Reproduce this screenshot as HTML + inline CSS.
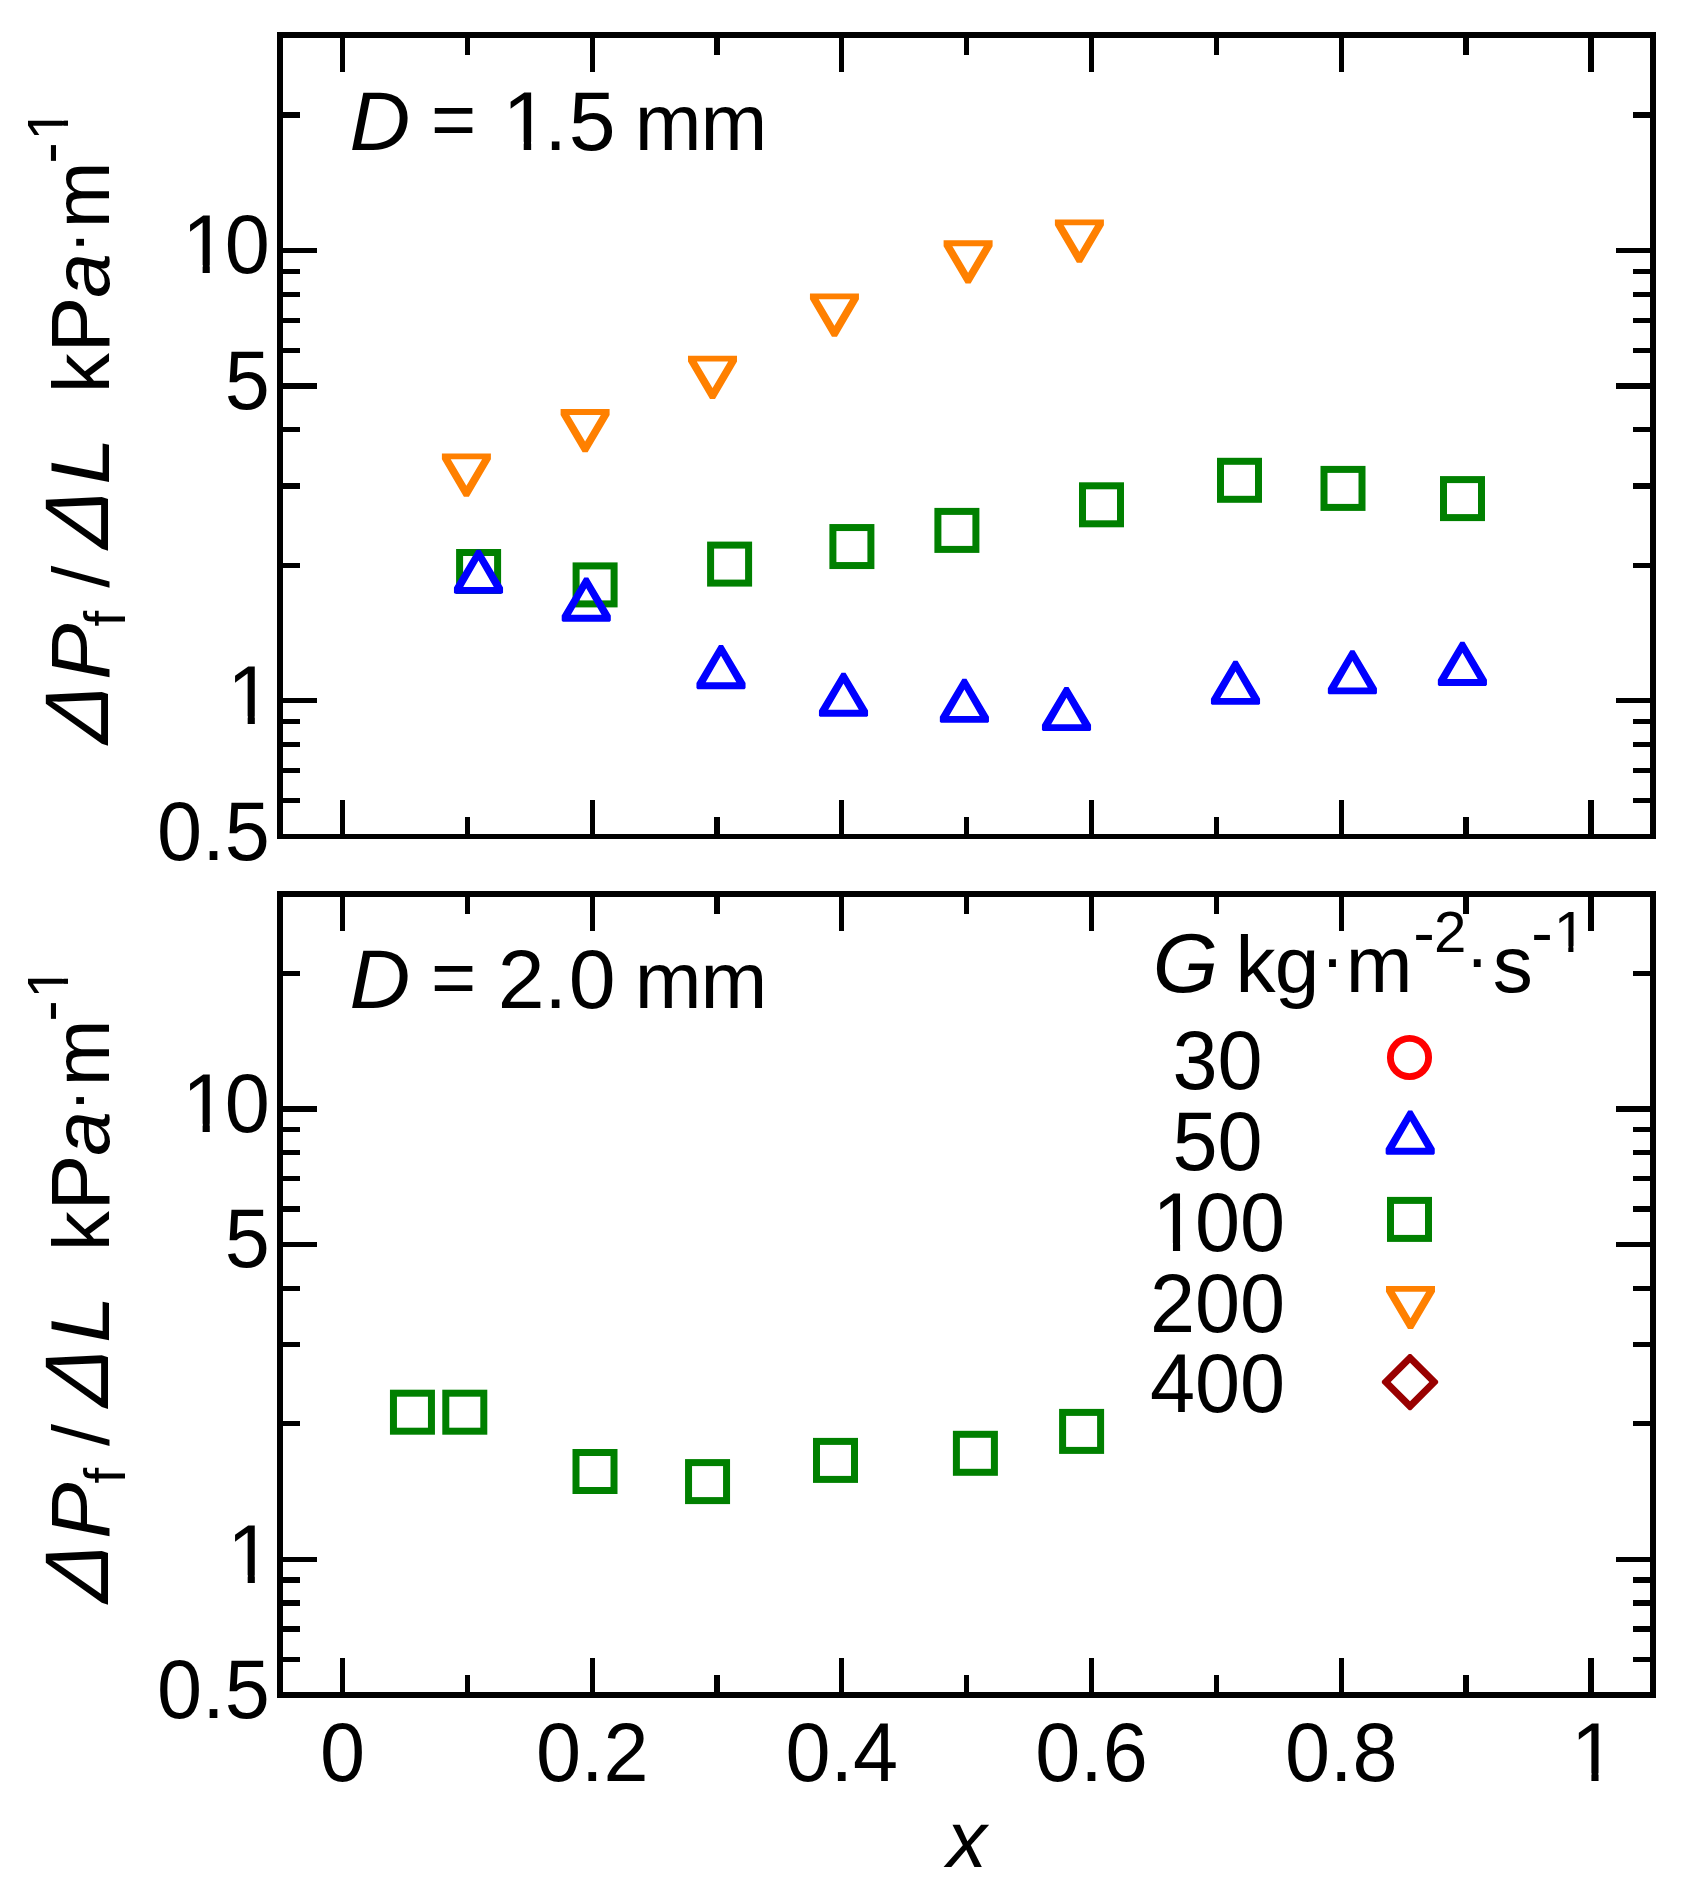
<!DOCTYPE html>
<html lang="en"><head><meta charset="utf-8"><title>Frictional pressure drop vs. quality</title>
<style>
html,body{margin:0;padding:0;background:#fff;}
svg{display:block;}
text{font-family:"Liberation Sans", sans-serif;fill:#000;font-kerning:none;}
</style></head><body>
<svg width="1695" height="1899" viewBox="0 0 1695 1899">
<rect width="1695" height="1899" fill="#fff"/>
<g id="axes">
<rect x="277.00" y="32.00" width="1379.00" height="6.00" fill="#000" shape-rendering="crispEdges"/>
<rect x="277.00" y="834.00" width="1379.00" height="5.00" fill="#000" shape-rendering="crispEdges"/>
<rect x="277.00" y="32.00" width="6.00" height="807.00" fill="#000" shape-rendering="crispEdges"/>
<rect x="1650.00" y="32.00" width="6.00" height="807.00" fill="#000" shape-rendering="crispEdges"/>
<rect x="277.00" y="890.70" width="1379.00" height="5.80" fill="#000" shape-rendering="crispEdges"/>
<rect x="277.00" y="1692.30" width="1379.00" height="5.50" fill="#000" shape-rendering="crispEdges"/>
<rect x="277.00" y="890.70" width="6.00" height="807.10" fill="#000" shape-rendering="crispEdges"/>
<rect x="1650.00" y="890.70" width="6.00" height="807.10" fill="#000" shape-rendering="crispEdges"/>
<rect x="339.90" y="35.00" width="5.20" height="37.00" fill="#000" shape-rendering="crispEdges"/>
<rect x="339.90" y="799.50" width="5.20" height="37.00" fill="#000" shape-rendering="crispEdges"/>
<rect x="464.74" y="35.00" width="5.20" height="20.00" fill="#000" shape-rendering="crispEdges"/>
<rect x="464.74" y="816.50" width="5.20" height="20.00" fill="#000" shape-rendering="crispEdges"/>
<rect x="589.58" y="35.00" width="5.20" height="37.00" fill="#000" shape-rendering="crispEdges"/>
<rect x="589.58" y="799.50" width="5.20" height="37.00" fill="#000" shape-rendering="crispEdges"/>
<rect x="714.42" y="35.00" width="5.20" height="20.00" fill="#000" shape-rendering="crispEdges"/>
<rect x="714.42" y="816.50" width="5.20" height="20.00" fill="#000" shape-rendering="crispEdges"/>
<rect x="839.26" y="35.00" width="5.20" height="37.00" fill="#000" shape-rendering="crispEdges"/>
<rect x="839.26" y="799.50" width="5.20" height="37.00" fill="#000" shape-rendering="crispEdges"/>
<rect x="964.10" y="35.00" width="5.20" height="20.00" fill="#000" shape-rendering="crispEdges"/>
<rect x="964.10" y="816.50" width="5.20" height="20.00" fill="#000" shape-rendering="crispEdges"/>
<rect x="1088.94" y="35.00" width="5.20" height="37.00" fill="#000" shape-rendering="crispEdges"/>
<rect x="1088.94" y="799.50" width="5.20" height="37.00" fill="#000" shape-rendering="crispEdges"/>
<rect x="1213.78" y="35.00" width="5.20" height="20.00" fill="#000" shape-rendering="crispEdges"/>
<rect x="1213.78" y="816.50" width="5.20" height="20.00" fill="#000" shape-rendering="crispEdges"/>
<rect x="1338.62" y="35.00" width="5.20" height="37.00" fill="#000" shape-rendering="crispEdges"/>
<rect x="1338.62" y="799.50" width="5.20" height="37.00" fill="#000" shape-rendering="crispEdges"/>
<rect x="1463.46" y="35.00" width="5.20" height="20.00" fill="#000" shape-rendering="crispEdges"/>
<rect x="1463.46" y="816.50" width="5.20" height="20.00" fill="#000" shape-rendering="crispEdges"/>
<rect x="1588.30" y="35.00" width="5.20" height="37.00" fill="#000" shape-rendering="crispEdges"/>
<rect x="1588.30" y="799.50" width="5.20" height="37.00" fill="#000" shape-rendering="crispEdges"/>
<rect x="339.90" y="893.60" width="5.20" height="37.00" fill="#000" shape-rendering="crispEdges"/>
<rect x="339.90" y="1658.05" width="5.20" height="37.00" fill="#000" shape-rendering="crispEdges"/>
<rect x="464.74" y="893.60" width="5.20" height="20.00" fill="#000" shape-rendering="crispEdges"/>
<rect x="464.74" y="1675.05" width="5.20" height="20.00" fill="#000" shape-rendering="crispEdges"/>
<rect x="589.58" y="893.60" width="5.20" height="37.00" fill="#000" shape-rendering="crispEdges"/>
<rect x="589.58" y="1658.05" width="5.20" height="37.00" fill="#000" shape-rendering="crispEdges"/>
<rect x="714.42" y="893.60" width="5.20" height="20.00" fill="#000" shape-rendering="crispEdges"/>
<rect x="714.42" y="1675.05" width="5.20" height="20.00" fill="#000" shape-rendering="crispEdges"/>
<rect x="839.26" y="893.60" width="5.20" height="37.00" fill="#000" shape-rendering="crispEdges"/>
<rect x="839.26" y="1658.05" width="5.20" height="37.00" fill="#000" shape-rendering="crispEdges"/>
<rect x="964.10" y="893.60" width="5.20" height="20.00" fill="#000" shape-rendering="crispEdges"/>
<rect x="964.10" y="1675.05" width="5.20" height="20.00" fill="#000" shape-rendering="crispEdges"/>
<rect x="1088.94" y="893.60" width="5.20" height="37.00" fill="#000" shape-rendering="crispEdges"/>
<rect x="1088.94" y="1658.05" width="5.20" height="37.00" fill="#000" shape-rendering="crispEdges"/>
<rect x="1213.78" y="893.60" width="5.20" height="20.00" fill="#000" shape-rendering="crispEdges"/>
<rect x="1213.78" y="1675.05" width="5.20" height="20.00" fill="#000" shape-rendering="crispEdges"/>
<rect x="1338.62" y="893.60" width="5.20" height="37.00" fill="#000" shape-rendering="crispEdges"/>
<rect x="1338.62" y="1658.05" width="5.20" height="37.00" fill="#000" shape-rendering="crispEdges"/>
<rect x="1463.46" y="893.60" width="5.20" height="20.00" fill="#000" shape-rendering="crispEdges"/>
<rect x="1463.46" y="1675.05" width="5.20" height="20.00" fill="#000" shape-rendering="crispEdges"/>
<rect x="1588.30" y="893.60" width="5.20" height="37.00" fill="#000" shape-rendering="crispEdges"/>
<rect x="1588.30" y="1658.05" width="5.20" height="37.00" fill="#000" shape-rendering="crispEdges"/>
<rect x="280.00" y="698.20" width="37.00" height="5.20" fill="#000" shape-rendering="crispEdges"/>
<rect x="1616.00" y="698.20" width="37.00" height="5.20" fill="#000" shape-rendering="crispEdges"/>
<rect x="280.00" y="383.45" width="37.00" height="5.20" fill="#000" shape-rendering="crispEdges"/>
<rect x="1616.00" y="383.45" width="37.00" height="5.20" fill="#000" shape-rendering="crispEdges"/>
<rect x="280.00" y="247.90" width="37.00" height="5.20" fill="#000" shape-rendering="crispEdges"/>
<rect x="1616.00" y="247.90" width="37.00" height="5.20" fill="#000" shape-rendering="crispEdges"/>
<rect x="280.00" y="798.10" width="20.00" height="5.20" fill="#000" shape-rendering="crispEdges"/>
<rect x="1633.00" y="798.10" width="20.00" height="5.20" fill="#000" shape-rendering="crispEdges"/>
<rect x="280.00" y="767.95" width="20.00" height="5.20" fill="#000" shape-rendering="crispEdges"/>
<rect x="1633.00" y="767.95" width="20.00" height="5.20" fill="#000" shape-rendering="crispEdges"/>
<rect x="280.00" y="741.84" width="20.00" height="5.20" fill="#000" shape-rendering="crispEdges"/>
<rect x="1633.00" y="741.84" width="20.00" height="5.20" fill="#000" shape-rendering="crispEdges"/>
<rect x="280.00" y="718.80" width="20.00" height="5.20" fill="#000" shape-rendering="crispEdges"/>
<rect x="1633.00" y="718.80" width="20.00" height="5.20" fill="#000" shape-rendering="crispEdges"/>
<rect x="280.00" y="562.65" width="20.00" height="5.20" fill="#000" shape-rendering="crispEdges"/>
<rect x="1633.00" y="562.65" width="20.00" height="5.20" fill="#000" shape-rendering="crispEdges"/>
<rect x="280.00" y="483.35" width="20.00" height="5.20" fill="#000" shape-rendering="crispEdges"/>
<rect x="1633.00" y="483.35" width="20.00" height="5.20" fill="#000" shape-rendering="crispEdges"/>
<rect x="280.00" y="427.09" width="20.00" height="5.20" fill="#000" shape-rendering="crispEdges"/>
<rect x="1633.00" y="427.09" width="20.00" height="5.20" fill="#000" shape-rendering="crispEdges"/>
<rect x="280.00" y="347.80" width="20.00" height="5.20" fill="#000" shape-rendering="crispEdges"/>
<rect x="1633.00" y="347.80" width="20.00" height="5.20" fill="#000" shape-rendering="crispEdges"/>
<rect x="280.00" y="317.65" width="20.00" height="5.20" fill="#000" shape-rendering="crispEdges"/>
<rect x="1633.00" y="317.65" width="20.00" height="5.20" fill="#000" shape-rendering="crispEdges"/>
<rect x="280.00" y="291.54" width="20.00" height="5.20" fill="#000" shape-rendering="crispEdges"/>
<rect x="1633.00" y="291.54" width="20.00" height="5.20" fill="#000" shape-rendering="crispEdges"/>
<rect x="280.00" y="268.50" width="20.00" height="5.20" fill="#000" shape-rendering="crispEdges"/>
<rect x="1633.00" y="268.50" width="20.00" height="5.20" fill="#000" shape-rendering="crispEdges"/>
<rect x="280.00" y="112.35" width="20.00" height="5.20" fill="#000" shape-rendering="crispEdges"/>
<rect x="1633.00" y="112.35" width="20.00" height="5.20" fill="#000" shape-rendering="crispEdges"/>
<rect x="280.00" y="1556.70" width="37.00" height="5.20" fill="#000" shape-rendering="crispEdges"/>
<rect x="1616.00" y="1556.70" width="37.00" height="5.20" fill="#000" shape-rendering="crispEdges"/>
<rect x="280.00" y="1241.95" width="37.00" height="5.20" fill="#000" shape-rendering="crispEdges"/>
<rect x="1616.00" y="1241.95" width="37.00" height="5.20" fill="#000" shape-rendering="crispEdges"/>
<rect x="280.00" y="1106.40" width="37.00" height="5.20" fill="#000" shape-rendering="crispEdges"/>
<rect x="1616.00" y="1106.40" width="37.00" height="5.20" fill="#000" shape-rendering="crispEdges"/>
<rect x="280.00" y="1656.60" width="20.00" height="5.20" fill="#000" shape-rendering="crispEdges"/>
<rect x="1633.00" y="1656.60" width="20.00" height="5.20" fill="#000" shape-rendering="crispEdges"/>
<rect x="280.00" y="1626.45" width="20.00" height="5.20" fill="#000" shape-rendering="crispEdges"/>
<rect x="1633.00" y="1626.45" width="20.00" height="5.20" fill="#000" shape-rendering="crispEdges"/>
<rect x="280.00" y="1600.34" width="20.00" height="5.20" fill="#000" shape-rendering="crispEdges"/>
<rect x="1633.00" y="1600.34" width="20.00" height="5.20" fill="#000" shape-rendering="crispEdges"/>
<rect x="280.00" y="1577.30" width="20.00" height="5.20" fill="#000" shape-rendering="crispEdges"/>
<rect x="1633.00" y="1577.30" width="20.00" height="5.20" fill="#000" shape-rendering="crispEdges"/>
<rect x="280.00" y="1421.15" width="20.00" height="5.20" fill="#000" shape-rendering="crispEdges"/>
<rect x="1633.00" y="1421.15" width="20.00" height="5.20" fill="#000" shape-rendering="crispEdges"/>
<rect x="280.00" y="1341.85" width="20.00" height="5.20" fill="#000" shape-rendering="crispEdges"/>
<rect x="1633.00" y="1341.85" width="20.00" height="5.20" fill="#000" shape-rendering="crispEdges"/>
<rect x="280.00" y="1285.59" width="20.00" height="5.20" fill="#000" shape-rendering="crispEdges"/>
<rect x="1633.00" y="1285.59" width="20.00" height="5.20" fill="#000" shape-rendering="crispEdges"/>
<rect x="280.00" y="1206.30" width="20.00" height="5.20" fill="#000" shape-rendering="crispEdges"/>
<rect x="1633.00" y="1206.30" width="20.00" height="5.20" fill="#000" shape-rendering="crispEdges"/>
<rect x="280.00" y="1176.15" width="20.00" height="5.20" fill="#000" shape-rendering="crispEdges"/>
<rect x="1633.00" y="1176.15" width="20.00" height="5.20" fill="#000" shape-rendering="crispEdges"/>
<rect x="280.00" y="1150.04" width="20.00" height="5.20" fill="#000" shape-rendering="crispEdges"/>
<rect x="1633.00" y="1150.04" width="20.00" height="5.20" fill="#000" shape-rendering="crispEdges"/>
<rect x="280.00" y="1127.00" width="20.00" height="5.20" fill="#000" shape-rendering="crispEdges"/>
<rect x="1633.00" y="1127.00" width="20.00" height="5.20" fill="#000" shape-rendering="crispEdges"/>
<rect x="280.00" y="970.85" width="20.00" height="5.20" fill="#000" shape-rendering="crispEdges"/>
<rect x="1633.00" y="970.85" width="20.00" height="5.20" fill="#000" shape-rendering="crispEdges"/>
</g>
<g id="series-top">
<path d="M441.90,453.45L490.90,453.45L490.90,459.35L468.90,496.65L463.90,496.65L441.90,459.35ZM450.70,459.35L482.10,459.35L466.40,485.85Z" fill="#FF8000" fill-rule="evenodd"/>
<path d="M560.60,409.00L609.60,409.00L609.60,414.90L587.60,452.20L582.60,452.20L560.60,414.90ZM569.40,414.90L600.80,414.90L585.10,441.40Z" fill="#FF8000" fill-rule="evenodd"/>
<path d="M688.00,355.70L737.00,355.70L737.00,361.60L715.00,398.90L710.00,398.90L688.00,361.60ZM696.80,361.60L728.20,361.60L712.50,388.10Z" fill="#FF8000" fill-rule="evenodd"/>
<path d="M809.95,293.45L858.95,293.45L858.95,299.35L836.95,336.65L831.95,336.65L809.95,299.35ZM818.75,299.35L850.15,299.35L834.45,325.85Z" fill="#FF8000" fill-rule="evenodd"/>
<path d="M943.60,240.35L992.60,240.35L992.60,246.25L970.60,283.55L965.60,283.55L943.60,246.25ZM952.40,246.25L983.80,246.25L968.10,272.75Z" fill="#FF8000" fill-rule="evenodd"/>
<path d="M1054.90,219.45L1103.90,219.45L1103.90,225.35L1081.90,262.65L1076.90,262.65L1054.90,225.35ZM1063.70,225.35L1095.10,225.35L1079.40,251.85Z" fill="#FF8000" fill-rule="evenodd"/>
<rect x="459.60" y="552.50" width="38" height="38" fill="none" stroke="#008000" stroke-width="7.0"/>
<rect x="576.10" y="565.90" width="38" height="38" fill="none" stroke="#008000" stroke-width="7.0"/>
<rect x="710.60" y="545.10" width="38" height="38" fill="none" stroke="#008000" stroke-width="7.0"/>
<rect x="832.90" y="527.55" width="38" height="38" fill="none" stroke="#008000" stroke-width="7.0"/>
<rect x="937.90" y="511.40" width="38" height="38" fill="none" stroke="#008000" stroke-width="7.0"/>
<rect x="1082.50" y="485.80" width="38" height="38" fill="none" stroke="#008000" stroke-width="7.0"/>
<rect x="1220.50" y="461.30" width="38" height="38" fill="none" stroke="#008000" stroke-width="7.0"/>
<rect x="1324.00" y="469.40" width="38" height="38" fill="none" stroke="#008000" stroke-width="7.0"/>
<rect x="1443.50" y="479.60" width="38" height="38" fill="none" stroke="#008000" stroke-width="7.0"/>
<path d="M476.50,549.70L480.50,549.70L503.05,587.60L503.05,592.70L501.95,593.80L455.05,593.80L453.95,592.70L453.95,587.60ZM478.50,560.50L493.80,586.90L463.20,586.90Z" fill="#0000FF" fill-rule="evenodd"/>
<path d="M584.25,577.55L588.25,577.55L610.80,615.45L610.80,620.55L609.70,621.65L562.80,621.65L561.70,620.55L561.70,615.45ZM586.25,588.35L601.55,614.75L570.95,614.75Z" fill="#0000FF" fill-rule="evenodd"/>
<path d="M719.00,645.05L723.00,645.05L745.55,682.95L745.55,688.05L744.45,689.15L697.55,689.15L696.45,688.05L696.45,682.95ZM721.00,655.85L736.30,682.25L705.70,682.25Z" fill="#0000FF" fill-rule="evenodd"/>
<path d="M841.50,672.65L845.50,672.65L868.05,710.55L868.05,715.65L866.95,716.75L820.05,716.75L818.95,715.65L818.95,710.55ZM843.50,683.45L858.80,709.85L828.20,709.85Z" fill="#0000FF" fill-rule="evenodd"/>
<path d="M962.40,678.75L966.40,678.75L988.95,716.65L988.95,721.75L987.85,722.85L940.95,722.85L939.85,721.75L939.85,716.65ZM964.40,689.55L979.70,715.95L949.10,715.95Z" fill="#0000FF" fill-rule="evenodd"/>
<path d="M1064.50,686.95L1068.50,686.95L1091.05,724.85L1091.05,729.95L1089.95,731.05L1043.05,731.05L1041.95,729.95L1041.95,724.85ZM1066.50,697.75L1081.80,724.15L1051.20,724.15Z" fill="#0000FF" fill-rule="evenodd"/>
<path d="M1233.50,660.75L1237.50,660.75L1260.05,698.65L1260.05,703.75L1258.95,704.85L1212.05,704.85L1210.95,703.75L1210.95,698.65ZM1235.50,671.55L1250.80,697.95L1220.20,697.95Z" fill="#0000FF" fill-rule="evenodd"/>
<path d="M1350.40,650.25L1354.40,650.25L1376.95,688.15L1376.95,693.25L1375.85,694.35L1328.95,694.35L1327.85,693.25L1327.85,688.15ZM1352.40,661.05L1367.70,687.45L1337.10,687.45Z" fill="#0000FF" fill-rule="evenodd"/>
<path d="M1460.40,641.85L1464.40,641.85L1486.95,679.75L1486.95,684.85L1485.85,685.95L1438.95,685.95L1437.85,684.85L1437.85,679.75ZM1462.40,652.65L1477.70,679.05L1447.10,679.05Z" fill="#0000FF" fill-rule="evenodd"/>
</g><g id="series-bottom">
<rect x="393.45" y="1393.20" width="38" height="38" fill="none" stroke="#008000" stroke-width="7.0"/>
<rect x="445.80" y="1393.20" width="38" height="38" fill="none" stroke="#008000" stroke-width="7.0"/>
<rect x="576.00" y="1452.50" width="38" height="38" fill="none" stroke="#008000" stroke-width="7.0"/>
<rect x="688.55" y="1462.60" width="38" height="38" fill="none" stroke="#008000" stroke-width="7.0"/>
<rect x="816.50" y="1441.40" width="38" height="38" fill="none" stroke="#008000" stroke-width="7.0"/>
<rect x="956.40" y="1434.30" width="38" height="38" fill="none" stroke="#008000" stroke-width="7.0"/>
<rect x="1062.60" y="1412.40" width="38" height="38" fill="none" stroke="#008000" stroke-width="7.0"/>
</g><g id="legend-symbols">
<circle cx="1409.5" cy="1057.5" r="19.1" fill="none" stroke="#FF0000" stroke-width="6.9"/>
<path d="M1408.20,1110.55L1412.20,1110.55L1434.75,1148.45L1434.75,1153.55L1433.65,1154.65L1386.75,1154.65L1385.65,1153.55L1385.65,1148.45ZM1410.20,1121.35L1425.50,1147.75L1394.90,1147.75Z" fill="#0000FF" fill-rule="evenodd"/>
<rect x="1390.50" y="1200.40" width="38" height="38" fill="none" stroke="#008000" stroke-width="7.0"/>
<path d="M1386.00,1285.90L1435.00,1285.90L1435.00,1291.80L1413.00,1329.10L1408.00,1329.10L1386.00,1291.80ZM1394.80,1291.80L1426.20,1291.80L1410.50,1318.30Z" fill="#FF8000" fill-rule="evenodd"/>
<path d="M1408.95,1353.90L1411.05,1353.90L1438.15,1381.00L1438.15,1383.10L1411.05,1410.20L1408.95,1410.20L1381.85,1383.10L1381.85,1381.00ZM1410.00,1362.75L1429.30,1382.05L1410.00,1401.35L1390.70,1382.05Z" fill="#990000" fill-rule="evenodd"/>
</g>
<g id="labels">
<text transform="translate(300.00,149.70)"><tspan x="49.61" y="0.00" font-size="84.24" font-style="italic">D</tspan> <tspan x="131.02" y="-3.90" font-size="77.35">=</tspan> <tspan x="202.52" y="0.00" font-size="84.24">1</tspan><tspan x="244.48" y="0.00" font-size="80.19">.</tspan><tspan x="268.73" y="0.00" font-size="84.24">5</tspan> <tspan x="334.67" y="0.00" font-size="80.19">m</tspan><tspan x="400.47" y="0.00" font-size="80.19">m</tspan></text>
<text transform="translate(300.00,1007.90)"><tspan x="49.61" y="0.00" font-size="84.24" font-style="italic">D</tspan> <tspan x="131.02" y="-3.90" font-size="77.35">=</tspan> <tspan x="197.66" y="0.00" font-size="84.24">2</tspan><tspan x="244.48" y="0.00" font-size="80.19">.</tspan><tspan x="268.81" y="0.00" font-size="84.24">0</tspan> <tspan x="334.67" y="0.00" font-size="80.19">m</tspan><tspan x="400.47" y="0.00" font-size="80.19">m</tspan></text>
<text transform="translate(269.70,272.90) scale(1,1.04)"><tspan x="-87.45" y="0.00" font-size="81.00">1</tspan><tspan x="-45.05" y="0.00" font-size="81.00">0</tspan></text>
<text transform="translate(269.70,408.70) scale(1,1.04)"><tspan x="-45.05" y="0.00" font-size="81.00">5</tspan></text>
<text transform="translate(269.70,724.10) scale(1,1.04)"><tspan x="-42.40" y="0.00" font-size="81.00">1</tspan></text>
<text transform="translate(269.70,860.20) scale(1,1.04)"><tspan x="-112.60" y="0.00" font-size="81.00">0</tspan><tspan x="-67.55" y="0.00" font-size="81.00">.</tspan><tspan x="-45.05" y="0.00" font-size="81.00">5</tspan></text>
<text transform="translate(269.70,1131.60) scale(1,1.04)"><tspan x="-87.45" y="0.00" font-size="81.00">1</tspan><tspan x="-45.05" y="0.00" font-size="81.00">0</tspan></text>
<text transform="translate(269.70,1266.75) scale(1,1.04)"><tspan x="-45.05" y="0.00" font-size="81.00">5</tspan></text>
<text transform="translate(269.70,1583.10) scale(1,1.04)"><tspan x="-42.40" y="0.00" font-size="81.00">1</tspan></text>
<text transform="translate(269.70,1718.00) scale(1,1.04)"><tspan x="-112.60" y="0.00" font-size="81.00">0</tspan><tspan x="-67.55" y="0.00" font-size="81.00">.</tspan><tspan x="-45.05" y="0.00" font-size="81.00">5</tspan></text>
<text transform="translate(342.50,1781.00) scale(1,1.04)"><tspan x="-22.52" y="0.00" font-size="81.00">0</tspan></text>
<text transform="translate(592.18,1781.00) scale(1,1.04)"><tspan x="-56.30" y="0.00" font-size="81.00">0</tspan><tspan x="-11.25" y="0.00" font-size="81.00">.</tspan><tspan x="11.25" y="0.00" font-size="81.00">2</tspan></text>
<text transform="translate(841.86,1781.00) scale(1,1.04)"><tspan x="-56.30" y="0.00" font-size="81.00">0</tspan><tspan x="-11.25" y="0.00" font-size="81.00">.</tspan><tspan x="11.25" y="0.00" font-size="81.00">4</tspan></text>
<text transform="translate(1091.54,1781.00) scale(1,1.04)"><tspan x="-56.30" y="0.00" font-size="81.00">0</tspan><tspan x="-11.25" y="0.00" font-size="81.00">.</tspan><tspan x="11.25" y="0.00" font-size="81.00">6</tspan></text>
<text transform="translate(1341.22,1781.00) scale(1,1.04)"><tspan x="-56.30" y="0.00" font-size="81.00">0</tspan><tspan x="-11.25" y="0.00" font-size="81.00">.</tspan><tspan x="11.25" y="0.00" font-size="81.00">8</tspan></text>
<text transform="translate(1590.90,1781.00) scale(1,1.04)"><tspan x="-19.87" y="0.00" font-size="81.00">1</tspan></text>
<text transform="translate(966.70,1867.00)"><tspan x="-20.05" y="0.00" font-size="80.19" font-style="italic">x</tspan></text>
<text transform="translate(108.00,748.29) rotate(-90) skewX(-18.2) scale(1.051,1.116)" font-size="81.0">Δ</text>
<text transform="translate(109.00,750.00) rotate(-90)"><tspan x="70.21" y="0.00" font-size="84.24" font-style="italic">P</tspan><tspan x="123.40" y="16.00" font-size="56.55">f</tspan> <tspan x="162.20" y="0.00" font-size="79.38">/</tspan> </text>
<text transform="translate(108.00,553.34) rotate(-90) skewX(-18.2) scale(1.051,1.116)" font-size="81.0">Δ</text>
<text transform="translate(109.00,750.00) rotate(-90)"><tspan x="265.41" y="0.00" font-size="84.24" font-style="italic">L</tspan> <tspan x="356.80" y="0.00" font-size="80.19">k</tspan><tspan x="397.34" y="0.00" font-size="84.24">P</tspan><tspan x="452.30" y="0.00" font-size="80.19" font-style="italic">a</tspan><tspan x="495.71" y="-9.20" font-size="72.00">·</tspan><tspan x="521.77" y="0.00" font-size="80.19">m</tspan><tspan x="586.33" y="-38.20" font-size="64.70">-</tspan><tspan x="609.59" y="-41.00" font-size="58.24">1</tspan></text>
<text transform="translate(108.00,1607.29) rotate(-90) skewX(-18.2) scale(1.051,1.116)" font-size="81.0">Δ</text>
<text transform="translate(109.00,1608.10) rotate(-90)"><tspan x="69.31" y="0.00" font-size="84.24" font-style="italic">P</tspan><tspan x="124.50" y="16.00" font-size="56.55">f</tspan> <tspan x="162.20" y="0.00" font-size="79.38">/</tspan> </text>
<text transform="translate(108.00,1411.44) rotate(-90) skewX(-18.2) scale(1.051,1.116)" font-size="81.0">Δ</text>
<text transform="translate(109.00,1608.10) rotate(-90)"><tspan x="265.41" y="0.00" font-size="84.24" font-style="italic">L</tspan> <tspan x="356.80" y="0.00" font-size="80.19">k</tspan><tspan x="397.34" y="0.00" font-size="84.24">P</tspan><tspan x="452.30" y="0.00" font-size="80.19" font-style="italic">a</tspan><tspan x="495.71" y="-9.20" font-size="72.00">·</tspan><tspan x="521.77" y="0.00" font-size="80.19">m</tspan><tspan x="586.33" y="-38.20" font-size="64.70">-</tspan><tspan x="609.59" y="-41.00" font-size="58.24">1</tspan></text>
<text transform="translate(1100.00,992.40)"><tspan x="52.85" y="0.00" font-size="84.24" font-style="italic">G</tspan> <tspan x="135.40" y="0.00" font-size="80.19">k</tspan><tspan x="174.68" y="0.00" font-size="80.19">g</tspan><tspan x="220.46" y="-9.20" font-size="72.00">·</tspan><tspan x="245.72" y="0.00" font-size="80.19">m</tspan><tspan x="313.33" y="-37.70" font-size="64.70">-</tspan><tspan x="334.07" y="-40.50" font-size="58.24">2</tspan><tspan x="365.26" y="-9.20" font-size="72.00">·</tspan><tspan x="392.77" y="0.00" font-size="80.19">s</tspan><tspan x="431.13" y="-37.70" font-size="64.70">-</tspan><tspan x="453.64" y="-40.50" font-size="58.24">1</tspan></text>
<text transform="translate(1217.50,1089.40) scale(1,1.04)"><tspan x="-45.05" y="0.00" font-size="81.00">3</tspan><tspan x="0.00" y="0.00" font-size="81.00">0</tspan></text>
<text transform="translate(1217.50,1170.15) scale(1,1.04)"><tspan x="-45.05" y="0.00" font-size="81.00">5</tspan><tspan x="0.00" y="0.00" font-size="81.00">0</tspan></text>
<text transform="translate(1217.50,1250.90) scale(1,1.04)"><tspan x="-64.92" y="0.00" font-size="81.00">1</tspan><tspan x="-22.52" y="0.00" font-size="81.00">0</tspan><tspan x="22.52" y="0.00" font-size="81.00">0</tspan></text>
<text transform="translate(1217.50,1331.65) scale(1,1.04)"><tspan x="-67.57" y="0.00" font-size="81.00">2</tspan><tspan x="-22.52" y="0.00" font-size="81.00">0</tspan><tspan x="22.52" y="0.00" font-size="81.00">0</tspan></text>
<text transform="translate(1217.50,1412.40) scale(1,1.04)"><tspan x="-67.57" y="0.00" font-size="81.00">4</tspan><tspan x="-22.52" y="0.00" font-size="81.00">0</tspan><tspan x="22.52" y="0.00" font-size="81.00">0</tspan></text>
</g>
<g id="one-serif-masks">
<rect x="506.06" y="141.81" width="17.65" height="8.89" fill="#fff"/>
<rect x="531.15" y="141.81" width="16.58" height="8.89" fill="#fff"/>
<rect x="185.65" y="265.01" width="16.97" height="8.89" fill="#fff"/>
<rect x="209.78" y="265.01" width="15.94" height="8.89" fill="#fff"/>
<rect x="230.70" y="716.21" width="16.97" height="8.89" fill="#fff"/>
<rect x="254.83" y="716.21" width="15.94" height="8.89" fill="#fff"/>
<rect x="185.65" y="1123.71" width="16.97" height="8.89" fill="#fff"/>
<rect x="209.78" y="1123.71" width="15.94" height="8.89" fill="#fff"/>
<rect x="230.70" y="1575.21" width="16.97" height="8.89" fill="#fff"/>
<rect x="254.83" y="1575.21" width="15.94" height="8.89" fill="#fff"/>
<rect x="1574.43" y="1773.11" width="16.97" height="8.89" fill="#fff"/>
<rect x="1598.55" y="1773.11" width="15.94" height="8.89" fill="#fff"/>
<rect x="62.05" y="125.76" width="6.95" height="12.20" fill="#fff"/>
<rect x="62.05" y="109.15" width="6.95" height="11.46" fill="#fff"/>
<rect x="62.05" y="983.86" width="6.95" height="12.20" fill="#fff"/>
<rect x="62.05" y="967.25" width="6.95" height="11.46" fill="#fff"/>
<rect x="1556.09" y="945.95" width="12.20" height="6.95" fill="#fff"/>
<rect x="1573.43" y="945.95" width="11.46" height="6.95" fill="#fff"/>
<rect x="1155.98" y="1243.01" width="16.97" height="8.89" fill="#fff"/>
<rect x="1180.10" y="1243.01" width="15.94" height="8.89" fill="#fff"/>
</g>
</svg>
</body></html>
